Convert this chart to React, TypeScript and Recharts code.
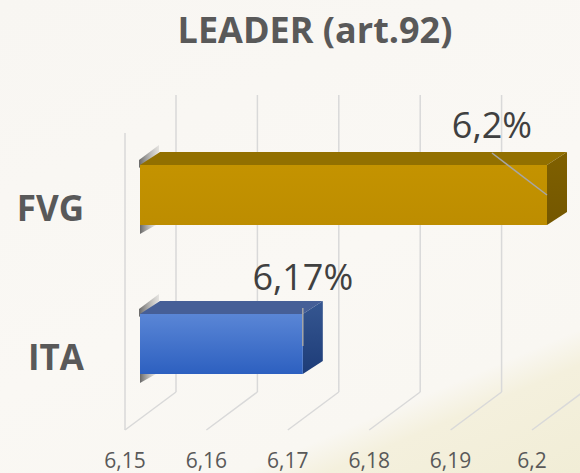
import React from 'react';
import { BarChart, Bar, XAxis, YAxis, CartesianGrid, LabelList } from 'recharts';

const categories = ['FVG', 'ITA'];
const values = [6.2, 6.17];
const xTicks = [6.15, 6.16, 6.17, 6.18, 6.19, 6.2];
const chartTitle = 'LEADER (art.92)';

const data = categories.map((c, i) => ({ name: c, value: values[i] }));

const FONT = '"Open Sans", "DejaVu Sans", sans-serif';
const W = 580;
const H = 473;
const MARGIN = { top: 134, right: 48, bottom: 0, left: 0 };
const DEPTH_X = 20;
const DEPTH_Y = 13;
const SHIFT_X = 15;
const SHIFT_Y = -14;
const WALL_X = 51;
const GRID = '#d9d9d9';

const palettes: Record<string, { front: string; top: string; side: string }> = {
  FVG: { front: 'url(#fvgFront)', top: '#927000', side: 'url(#fvgSide)' },
  ITA: { front: 'url(#itaFront)', top: '#465f97', side: 'url(#itaSide)' },
};

const fmt = (v: number) => String(v).replace('.', ',');

const charW: Record<string, number> = { ',': 0.26, '%': 0.82 };
const textWidth = (s: string, size: number) =>
  s.split('').reduce((a, ch) => a + (charW[ch] ?? 0.572) * size, 0);

const renderBar = (p: any) => {
  const { x, y, width, height, payload } = p;
  const pal = palettes[payload?.name] || palettes.FVG;
  const fx = x + SHIFT_X;
  const fy = y + SHIFT_Y;
  const w = width;
  const h = height;
  return (
    <g>
      <polygon
        points={`${fx - 1},${fy + 3} ${fx - 1},${fy - 5} ${fx + DEPTH_X - 1},${fy - DEPTH_Y - 7} ${fx + DEPTH_X - 1},${fy - DEPTH_Y}`}
        fill="url(#shadowGrad)"
      />
      <polygon
        points={`${fx},${fy + h} ${fx + 16},${fy + h} ${fx},${fy + h + 9}`}
        fill="url(#shadowGrad)"
      />
      <polygon
        points={`${fx},${fy} ${fx + DEPTH_X},${fy - DEPTH_Y} ${fx + w + DEPTH_X},${fy - DEPTH_Y} ${fx + w},${fy}`}
        fill={pal.top}
      />
      <polygon
        points={`${fx + w},${fy} ${fx + w + DEPTH_X},${fy - DEPTH_Y} ${fx + w + DEPTH_X},${fy + h - DEPTH_Y} ${fx + w},${fy + h}`}
        fill={pal.side}
      />
      <rect x={fx} y={fy} width={w} height={h} fill={pal.front} />
    </g>
  );
};

const renderLabel = (p: any) => {
  const vb = p.viewBox || p;
  const { x, y, width, height } = vb;
  const str = fmt(p.value) + '%';
  const size = 36;
  const tw = textWidth(str, size);
  const right = x + width + SHIFT_X;
  const frontTop = y + SHIFT_Y;
  const midY = frontTop + height / 2;
  const cx = Math.min(right, W - MARGIN.right - tw / 2);
  const shifted = cx < right - 1;
  const baseline = frontTop - (shifted ? 27 : 24);
  return (
    <g>
      {shifted ? (
        <line x1={cx} y1={baseline + 15} x2={right} y2={midY} stroke="#a6a6a6" strokeWidth={1.5} />
      ) : (
        <line x1={right} y1={frontTop - 6} x2={right} y2={midY + 2} stroke="#a6a6a6" strokeWidth={1.5} />
      )}
      <text x={cx} y={baseline} textAnchor="middle" fontFamily={FONT} fontSize={size} fill="#404040">
        {str}
      </text>
    </g>
  );
};

const renderGridLine = (p: any) => {
  const { x1, y1, y2, index } = p;
  const x = x1;
  return (
    <g key={`grid-${index}-${x}`}>
      <line x1={x + WALL_X} y1={y1 - 39} x2={x + WALL_X} y2={y2 - 40} stroke={GRID} strokeWidth={1.5} />
      <line x1={x} y1={y2 - 2} x2={x + WALL_X} y2={y2 - 40} stroke={GRID} strokeWidth={1.5} />
      {index === 0 && <line x1={x} y1={y1 - 1} x2={x} y2={y2 - 2} stroke={GRID} strokeWidth={1.5} />}
    </g>
  );
};

export default function App() {
  return (
    <div
      style={{
        position: 'absolute',
        left: 0,
        top: 0,
        width: W,
        height: H,
        background:
          'linear-gradient(157deg, #f8f6f2 0%, #faf8f4 55%, #f9f7f2 80%, #f4f0dd 85%, #f1edd6 100%)',
        fontFamily: FONT,
      }}
    >
      <svg width={W} height={H} style={{ position: 'absolute', left: 0, top: 0 }}>
        <text x={315} y={43} textAnchor="middle" fontFamily={FONT} fontWeight={700} fontSize={36} fill="#595959">
          {chartTitle}
        </text>
      </svg>
      <div style={{ position: 'absolute', left: 0, top: 0 }}>
        <BarChart width={W} height={H} data={data} layout="vertical" margin={MARGIN} barCategoryGap={0}>
          <defs>
            <linearGradient id="fvgFront" x1="0" y1="0" x2="0" y2="1">
              <stop offset="0%" stopColor="#c49300" />
              <stop offset="100%" stopColor="#bd8d00" />
            </linearGradient>
            <linearGradient id="fvgSide" x1="0" y1="0" x2="0" y2="1">
              <stop offset="0%" stopColor="#7f6000" />
              <stop offset="100%" stopColor="#745700" />
            </linearGradient>
            <linearGradient id="itaFront" x1="0" y1="0" x2="0" y2="1">
              <stop offset="0%" stopColor="#5a86d6" />
              <stop offset="100%" stopColor="#2d60c0" />
            </linearGradient>
            <linearGradient id="itaSide" x1="0" y1="0" x2="0" y2="1">
              <stop offset="0%" stopColor="#365791" />
              <stop offset="100%" stopColor="#1d3c78" />
            </linearGradient>
            <linearGradient id="shadowGrad" x1="0" y1="0" x2="1" y2="0">
              <stop offset="0%" stopColor="#505050" stopOpacity={0.85} />
              <stop offset="100%" stopColor="#909090" stopOpacity={0.2} />
            </linearGradient>
          </defs>
          <CartesianGrid horizontal={false} vertical={renderGridLine} />
          <XAxis
            type="number"
            domain={[6.15, 6.2]}
            ticks={xTicks}
            interval={0}
            tickFormatter={fmt}
            axisLine={false}
            tickLine={false}
            tickSize={0}
            tickMargin={21}
            height={41}
            tick={{ fill: '#595959', fontSize: 21, fontFamily: FONT }}
          />
          <YAxis
            type="category"
            dataKey="name"
            width={125}
            axisLine={false}
            tickLine={false}
            tickSize={0}
            tickMargin={41}
            tick={{ fill: '#595959', fontSize: 35, fontWeight: 700, fontFamily: FONT }}
          />
          <Bar dataKey="value" barSize={60} isAnimationActive={false} shape={renderBar}>
            <LabelList dataKey="value" content={renderLabel} />
          </Bar>
        </BarChart>
      </div>
    </div>
  );
}
